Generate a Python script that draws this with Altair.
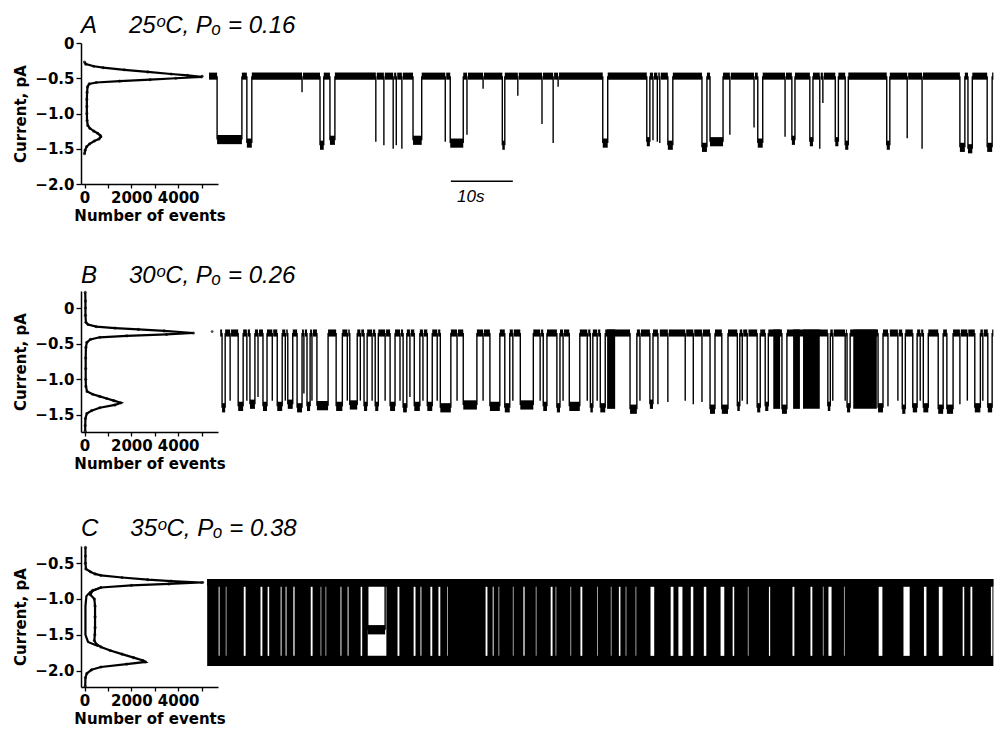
import altair as alt
import pandas as pd

TITLE_FONT = "Liberation Sans"
AXIS_FONT = "DejaVu Sans"

# ---------------- amplitude histograms (current in pA, number of events) ----------------
A_hist_current = [-0.27, -0.30, -0.33, -0.35, -0.38, -0.41, -0.44, -0.46, -0.48, -0.50, -0.52, -0.54,
                  -0.56, -0.58, -0.62, -0.70, -0.80, -0.90, -1.00, -1.10, -1.17, -1.21, -1.25, -1.28,
                  -1.31, -1.33, -1.36, -1.39, -1.43, -1.47, -1.52, -1.57]
A_hist_count = [0, 60, 400, 800, 1700, 2700, 3700, 4400, 5000, 3900, 2800, 1500,
                500, 200, 130, 110, 100, 100, 100, 110, 140, 230, 400, 560,
                670, 700, 620, 420, 220, 90, 30, 0]

B_hist_current = [0.22, 0.10, 0.0, -0.10, -0.20, -0.23, -0.26, -0.28, -0.30, -0.32, -0.35, -0.37,
                  -0.39, -0.41, -0.44, -0.48, -0.55, -0.70, -0.85, -1.00, -1.10, -1.17, -1.21, -1.24,
                  -1.27, -1.30, -1.33, -1.36, -1.40, -1.44, -1.48, -1.55, -1.65, -1.73]
B_hist_count = [30, 40, 40, 40, 60, 150, 500, 1300, 2300, 3400, 4650, 3500,
                1800, 650, 250, 100, 60, 50, 50, 50, 60, 110, 350, 650,
                950, 1250, 1550, 1300, 650, 300, 100, 40, 30, 30]

C_hist_current = [-0.28, -0.40, -0.50, -0.58, -0.62, -0.65, -0.67, -0.70, -0.73, -0.75, -0.77, -0.79,
                  -0.81, -0.84, -0.88, -0.94, -1.00, -1.10, -1.25, -1.40, -1.50, -1.58, -1.63, -1.67,
                  -1.72, -1.77, -1.82, -1.86, -1.88, -1.91, -1.95, -1.99, -2.04, -2.10, -2.22]
C_hist_count = [40, 40, 40, 60, 250, 450, 700, 1600, 2700, 3700, 5000, 3600,
                2000, 700, 350, 250, 420, 450, 450, 450, 440, 420, 500, 700,
                1100, 1600, 2100, 2500, 2600, 1800, 700, 300, 100, 40, 30]
C_fit_current = [-0.84, -0.90, -0.96, -1.10, -1.30, -1.50, -1.60, -1.66]
C_fit_count = [700, 250, 80, 40, 40, 40, 150, 600]

# ---------------- single-channel traces (time in s, current in pA) ----------------
# openings: (start s, end s, current reached pA)
A_closed_level = -0.47
A_open_level = -1.37
A_span = (0.0, 126.5)
A_openings = [
    (1.3, 5.3, -1.37), (6.1, 6.9, -1.42), (15.0, 15.15, -0.70), (17.9, 18.5, -1.45), (19.5, 20.3, -1.38),
    (26.9, 27.05, -1.40), (28.2, 28.35, -1.45), (29.7, 29.85, -1.50), (30.2, 30.35, -1.45), (31.1, 31.25, -1.50),
    (32.9, 34.3, -1.38), (38.1, 38.25, -1.40), (38.9, 41.0, -1.42), (41.6, 41.75, -1.30), (44.2, 44.35, -0.65),
    (47.3, 47.7, -1.45), (49.8, 49.95, -0.75), (53.7, 53.85, -1.15), (55.5, 55.65, -1.42), (56.3, 56.45, -0.62),
    (63.5, 64.3, -1.42), (70.6, 71.1, -1.40), (71.6, 71.75, -1.38), (72.3, 72.45, -1.40), (72.7, 72.85, -1.42),
    (74.0, 74.8, -1.45), (79.5, 80.3, -1.48), (80.8, 82.9, -1.40), (84.0, 84.15, -1.30), (87.9, 88.05, -1.20),
    (88.5, 89.3, -1.42), (92.9, 93.05, -1.33), (94.0, 94.5, -1.38), (96.9, 97.4, -1.40), (98.5, 98.65, -1.50),
    (99.0, 99.15, -0.85), (101.0, 101.5, -1.40), (102.6, 103.1, -1.45), (109.3, 109.8, -1.45), (112.6, 112.75, -1.35),
    (115.0, 115.15, -1.50), (121.1, 121.9, -1.48), (122.4, 123.1, -1.50), (125.5, 126.3, -1.48),
]
A_bursts = []
A_gaps = []
A_dot = (-1.1, -0.47)

B_closed_level = -0.35
B_open_level = -1.35
B_span = (1.8, 126.5)
B_openings = [
    (2.1, 2.6, -1.40), (3.4, 3.55, -1.30), (4.7, 5.5, -1.38), (6.1, 6.25, -1.30), (6.6, 7.4, -1.35),
    (7.9, 8.05, -1.25), (8.7, 9.35, -1.38), (10.2, 10.35, -1.30), (11.0, 11.8, -1.38), (12.3, 12.45, -1.30),
    (12.7, 13.5, -1.35), (14.2, 15.0, -1.40), (15.3, 15.45, -1.20), (15.8, 16.3, -1.38), (16.6, 16.75, -1.30),
    (17.4, 19.2, -1.37), (20.5, 21.5, -1.38), (22.3, 22.45, -1.30), (22.7, 23.9, -1.36), (24.4, 24.55, -1.30),
    (25.0, 25.5, -1.38), (26.3, 26.45, -1.30), (26.8, 27.3, -1.38), (28.4, 28.55, -1.30), (29.2, 30.0, -1.38),
    (30.8, 30.95, -1.30), (31.3, 31.9, -1.40), (32.4, 32.55, -1.25), (33.1, 34.0, -1.38), (34.5, 34.65, -1.30),
    (35.2, 36.0, -1.38), (36.8, 36.95, -1.30), (37.3, 39.0, -1.40), (40.0, 40.15, -1.30), (41.0, 43.2, -1.36),
    (44.2, 44.35, -1.30), (45.3, 46.9, -1.38), (47.7, 48.5, -1.40), (49.0, 49.15, -1.30), (50.2, 52.3, -1.36),
    (53.4, 53.55, -1.30), (53.9, 54.5, -1.38), (56.1, 56.6, -1.40), (57.1, 57.25, -1.30), (58.1, 59.8, -1.38),
    (61.0, 61.15, -1.30), (61.5, 61.9, -1.40), (62.6, 62.75, -1.30), (63.1, 63.9, -1.40),
    (67.9, 69.0, -1.42), (69.5, 69.65, -1.30), (71.1, 71.6, -1.35), (72.4, 72.7, -1.35), (74.0, 74.15, -1.32),
    (76.8, 76.95, -1.30), (78.1, 78.25, -1.35), (79.5, 79.65, -1.32), (80.8, 81.6, -1.42), (82.7, 83.7, -1.42),
    (85.2, 85.6, -1.38), (86.0, 86.15, -1.30), (86.8, 87.0, -1.35), (88.4, 88.9, -1.40), (89.7, 90.2, -1.38),
    (92.4, 93.2, -1.42), (99.8, 100.2, -1.38), (100.6, 100.75, -1.30), (102.6, 102.75, -1.30), (102.9, 103.4, -1.40),
    (107.9, 108.7, -1.40), (109.5, 109.8, -1.38), (111.1, 111.25, -1.30), (111.8, 112.3, -1.42), (113.5, 114.2, -1.40),
    (114.7, 114.85, -1.30), (115.2, 116.0, -1.40), (117.6, 118.4, -1.42), (119.0, 120.0, -1.42), (121.1, 121.25, -1.35),
    (122.3, 122.45, -1.30), (123.5, 124.4, -1.40), (124.8, 124.95, -1.30), (125.6, 126.3, -1.40),
]
B_bursts = [(64.2, 65.5), (91.0, 92.1), (94.2, 95.3), (95.8, 98.5), (103.9, 107.7)]
B_gaps = []
B_dot = (0.5, -0.33)

C_closed_level = -0.77
C_open_level = -1.87
C_span = (-0.3, 126.5)
C_openings = [(25.6, 28.4, -1.43)]
C_bursts = [(-0.3, 126.5)]
C_gaps = [
    (1.45, 1.8), (2.6, 2.9), (5.5, 6.0), (8.2, 8.7), (9.35, 9.8), (11.45, 11.8), (12.25, 12.6), (13.5, 13.9),
    (16.3, 16.8), (17.9, 18.2), (18.7, 19.0), (21.1, 21.45), (22.25, 22.6), (24.35, 24.8), (25.5, 28.7),
    (30.3, 30.8), (31.9, 32.1), (32.9, 33.4), (34.0, 34.35), (35.6, 36.1), (36.9, 37.4), (38.4, 38.5),
    (40.0, 40.2), (44.5, 45.0), (45.65, 46.0), (46.6, 46.9), (48.9, 49.2), (50.6, 51.0), (52.6, 52.9),
    (55.0, 55.5), (55.8, 56.1), (58.2, 58.5), (59.8, 60.3), (62.6, 62.7), (64.7, 65.0), (66.0, 66.45),
    (67.1, 67.4), (68.7, 69.0), (71.1, 71.9), (74.35, 75.0), (75.6, 76.45), (77.6, 78.2), (79.7, 80.3),
    (82.4, 83.2), (84.35, 84.8), (86.8, 87.1), (90.2, 90.6), (94.0, 94.5), (95.6, 95.8), (96.9, 97.4),
    (98.9, 99.2), (99.8, 100.5), (102.3, 102.6), (107.9, 108.7), (111.9, 113.1), (115.2, 115.8),
    (117.6, 118.4), (121.45, 121.9), (122.7, 123.2), (126.0, 126.45),
]
C_dot = (-1.0, -0.77)

# scale bar (panel A)
scalebar_start, scalebar_len, scalebar_current = 39.0, 10.0, -1.96
scalebar_label = "10s"

titles = ["A\u2003\u200425\u1d52C, P\u2092 = 0.16",
          "B\u2003\u200430\u1d52C, P\u2092 = 0.26",
          "C\u2003\u200435\u1d52C, P\u2092 = 0.38"]
title_offsets = [-2, 0, 2]
y_domains = [[-2.0, 0.0], [-1.74, 0.24], [-2.23, -0.26]]
y_ticks = [[0, -0.5, -1.0, -1.5, -2.0], [0, -0.5, -1.0, -1.5], [-0.5, -1.0, -1.5, -2.0]]

W, H = 913, 141
TIME_DOMAIN = [-20.65, 126.6]
HIST_DOMAIN = [-150, 5700]
HIST_RANGE = [0, 137]

NOISE_C = 0.05
NOISE_O = 0.065
EDGE = 0.1   # stroke allowance (s) left black at each side of a white gap


def closed_segments(openings, span):
    segs, cur = [], span[0]
    for s, e, _ in sorted(openings):
        if s > cur:
            segs.append((cur, s))
        cur = max(cur, e)
    if cur < span[1]:
        segs.append((cur, span[1]))
    return segs


def build_row(idx, hcur, hcnt, fcur, fcnt, closed, openlvl, span, openings, bursts, gaps, dot, scalebar):
    ys = alt.Scale(domain=y_domains[idx], nice=False, zero=False)
    yax = alt.Axis(title="Current, pA", values=y_ticks[idx],
                   labelExpr="datum.value == 0 ? '0' : format(datum.value, '.1f')")
    xs_h = alt.Scale(domain=HIST_DOMAIN, range=HIST_RANGE, nice=False, zero=False)
    xs_t = alt.Scale(domain=TIME_DOMAIN, nice=False, zero=False)

    def hy(f):
        return alt.Y(f, scale=ys, axis=yax)

    hist = pd.DataFrame({"current": hcur, "count": hcnt, "i": range(len(hcur))})
    hist_line = alt.Chart(hist).mark_line(color="black", strokeWidth=2.2).encode(
        x=alt.X("count:Q", scale=xs_h,
                axis=alt.Axis(title="Number of events", values=[0, 1000, 2000, 3000, 4000, 5000],
                              format="d",
                              labelExpr="datum.value % 2000 == 0 ? datum.label : ''")),
        y=hy("current:Q"),
        order="i:Q",
    )
    hist_pts = alt.Chart(hist).mark_point(color="black", filled=True, size=10).encode(
        x=alt.X("count:Q", scale=xs_h, axis=None),
        y=hy("current:Q"),
    )
    layers = [hist_line, hist_pts]
    if fcur:
        fit = pd.DataFrame({"current": fcur, "count": fcnt, "i": range(len(fcur))})
        layers.append(alt.Chart(fit).mark_line(color="black", strokeWidth=2.2).encode(
            x=alt.X("count:Q", scale=xs_h, axis=None),
            y=hy("current:Q"),
            order="i:Q",
        ))

    def tx(f):
        return alt.X(f, scale=xs_t, axis=None)

    # solid flicker bursts
    if bursts:
        bdf = pd.DataFrame({"s": [b[0] for b in bursts], "e": [b[1] for b in bursts],
                            "current": openlvl - NOISE_O, "hi": closed + NOISE_C})
        layers.append(alt.Chart(bdf).mark_rect(color="black").encode(
            x=tx("s:Q"), x2="e:Q", y=hy("current:Q"), y2="hi:Q"))
    # white gaps between the two levels (long dwells inside bursts)
    if gaps:
        gdf = pd.DataFrame({"s": [g[0] + EDGE for g in gaps], "e": [g[1] - EDGE for g in gaps],
                            "current": openlvl + NOISE_O + 0.01, "hi": closed - NOISE_C - 0.01})
        layers.append(alt.Chart(gdf).mark_rect(color="white").encode(
            x=tx("s:Q"), x2="e:Q", y=hy("current:Q"), y2="hi:Q"))
    # closed-level noisy band
    cs = closed_segments(openings, span)
    cdf = pd.DataFrame({"s": [c[0] for c in cs], "e": [c[1] for c in cs],
                        "current": closed - NOISE_C, "hi": closed + NOISE_C})
    layers.append(alt.Chart(cdf).mark_rect(color="black").encode(
        x=tx("s:Q"), x2="e:Q", y=hy("current:Q"), y2="hi:Q"))
    # open-level band for longer openings
    long_o = [o for o in openings if o[1] - o[0] >= 0.3]
    if long_o:
        odf = pd.DataFrame({"s": [o[0] for o in long_o], "e": [o[1] for o in long_o],
                            "current": [o[2] - NOISE_O for o in long_o],
                            "hi": [o[2] + NOISE_O for o in long_o]})
        layers.append(alt.Chart(odf).mark_rect(color="black").encode(
            x=tx("s:Q"), x2="e:Q", y=hy("current:Q"), y2="hi:Q"))
    # transitions
    rt, rlvl = [], []
    for s, e, lvl in openings:
        rt.append(s)
        rlvl.append(lvl)
        if e - s >= 0.3:
            rt.append(e)
            rlvl.append(lvl)
    rdf = pd.DataFrame({"t": rt, "lvl": rlvl, "current": closed})
    layers.append(alt.Chart(rdf).mark_rule(color="black", strokeWidth=1.4).encode(
        x=tx("t:Q"), y=hy("current:Q"), y2="lvl:Q"))
    # small dot at trace start
    ddf = pd.DataFrame({"t": [dot[0]], "current": [dot[1]]})
    layers.append(alt.Chart(ddf).mark_point(color="black", filled=True, size=8).encode(
        x=tx("t:Q"), y=hy("current:Q")))
    if scalebar:
        sdf = pd.DataFrame({"s": [scalebar_start], "e": [scalebar_start + scalebar_len],
                            "m": [scalebar_start + 0.32 * scalebar_len],
                            "current": [scalebar_current], "ty": [scalebar_current - 0.23],
                            "lab": [scalebar_label]})
        layers.append(alt.Chart(sdf).mark_rule(color="black", strokeWidth=1.5).encode(
            x=tx("s:Q"), x2="e:Q", y=hy("current:Q")))
        layers.append(alt.Chart(sdf).mark_text(font=TITLE_FONT, fontSize=17, fontStyle="italic",
                                               color="black", baseline="middle").encode(
            x=tx("m:Q"), y=alt.Y("ty:Q", scale=ys, axis=yax), text="lab:N"))

    return alt.layer(*layers).resolve_scale(x="independent").properties(
        width=W, height=H,
        title=alt.TitleParams(titles[idx], anchor="start", frame="group", font=TITLE_FONT,
                              fontSize=24, fontStyle="italic", fontWeight="normal",
                              color="black", offset=title_offsets[idx]),
    )


rowA = build_row(0, A_hist_current, A_hist_count, [], [], A_closed_level, A_open_level, A_span,
                 A_openings, A_bursts, A_gaps, A_dot, True)
rowB = build_row(1, B_hist_current, B_hist_count, [], [], B_closed_level, B_open_level, B_span,
                 B_openings, B_bursts, B_gaps, B_dot, False)
rowC = build_row(2, C_hist_current, C_hist_count, C_fit_current, C_fit_count, C_closed_level,
                 C_open_level, C_span, C_openings, C_bursts, C_gaps, C_dot, False)

chart = alt.vconcat(alt.vconcat(rowA, rowB, spacing=41), rowC, spacing=46).properties(
    padding={"left": 5, "top": 6, "right": 0, "bottom": 0}
).configure_view(stroke=None).configure_axis(
    grid=False, domainColor="black", domainWidth=1.5, tickColor="black", tickWidth=1.3,
    labelFont=AXIS_FONT, labelFontWeight="bold", labelFontSize=15, labelColor="black",
    titleFont=AXIS_FONT, titleFontWeight="bold", titleFontSize=15, titleColor="black",
).configure_axisY(tickSize=5, labelPadding=2, titlePadding=6).configure_axisX(
    tickSize=4, labelPadding=2, titlePadding=3, labelFlush=False
)

chart.save("out.html", embed_options={"renderer": "svg", "actions": False})
